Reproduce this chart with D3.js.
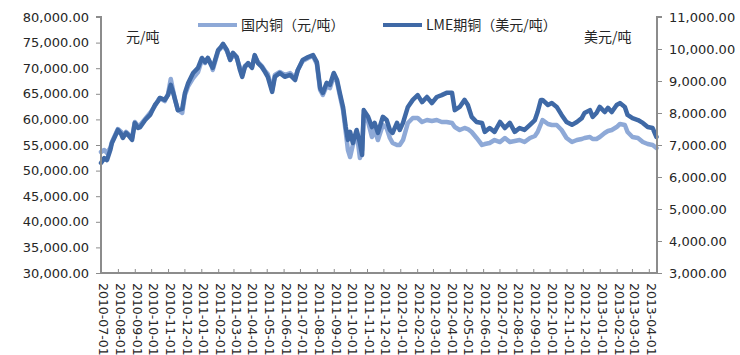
<!DOCTYPE html>
<html>
<head>
<meta charset="utf-8">
<script src="https://cdn.jsdelivr.net/npm/d3@7"></script>
<style>
  html, body { margin: 0; padding: 0; background: #fff; }
  svg { display: block; }
  text { font-family: "DejaVu Sans", Verdana, sans-serif; fill: #262626; }
  .cjk { font-family: "Noto Sans CJK SC", "DejaVu Sans", sans-serif; }
</style>
</head>
<body>
<svg id="chart" width="740" height="355"></svg>
<script>
// Trading dates (weekly-ish samples)
const dates = [
  "2010-07-01","2010-07-07","2010-07-12","2010-07-18","2010-07-21","2010-07-27","2010-08-01","2010-08-07","2010-08-10","2010-08-16",
  "2010-08-20","2010-08-27","2010-09-01","2010-09-07","2010-09-11","2010-09-20","2010-09-29","2010-10-08","2010-10-14","2010-10-17",
  "2010-10-26","2010-11-01","2010-11-06","2010-11-10","2010-11-14","2010-11-19","2010-11-27","2010-12-02","2010-12-08","2010-12-17",
  "2010-12-26","2011-01-02","2011-01-08","2011-01-13","2011-01-19","2011-01-22","2011-02-01","2011-02-06","2011-02-10","2011-02-17",
  "2011-02-23","2011-02-28","2011-03-07","2011-03-13","2011-03-17","2011-03-22","2011-03-28","2011-04-04","2011-04-09","2011-04-15",
  "2011-04-22","2011-04-28","2011-05-03","2011-05-11","2011-05-16","2011-05-25","2011-06-03","2011-06-13","2011-06-22","2011-06-27",
  "2011-07-06","2011-07-16","2011-07-25","2011-08-01","2011-08-07","2011-08-12","2011-08-19","2011-08-25","2011-09-01","2011-09-07",
  "2011-09-12","2011-09-18","2011-09-23","2011-09-27","2011-10-01","2011-10-06","2011-10-13","2011-10-19","2011-10-23","2011-10-26",
  "2011-11-03","2011-11-10","2011-11-15","2011-11-21","2011-11-30","2011-12-07","2011-12-13","2011-12-18","2011-12-26","2011-12-31",
  "2012-01-06","2012-01-15","2012-01-24","2012-02-02","2012-02-10","2012-02-19","2012-02-28","2012-03-08","2012-03-17","2012-03-26",
  "2012-04-05","2012-04-10","2012-04-19","2012-04-28","2012-05-04","2012-05-11","2012-05-20","2012-05-30","2012-06-04","2012-06-13",
  "2012-06-22","2012-07-02","2012-07-11","2012-07-20","2012-07-29","2012-08-07","2012-08-16","2012-08-26","2012-09-04","2012-09-09",
  "2012-09-15","2012-09-18","2012-09-28","2012-10-05","2012-10-14","2012-10-23","2012-11-01","2012-11-11","2012-11-20","2012-11-29",
  "2012-12-04","2012-12-14","2012-12-19","2012-12-26","2013-01-01","2013-01-10","2013-01-16","2013-01-23","2013-02-01","2013-02-07",
  "2013-02-16","2013-02-21","2013-03-02","2013-03-12","2013-03-21","2013-03-30","2013-04-08","2013-04-15"
];

// 国内铜（元/吨）
const domestic = [
  53630,54020,53440,54410,55590,56950,58120,57540,56760,57540,
  57150,56370,59490,58710,58910,60080,61250,62620,63790,64180,
  63590,64960,67890,65740,63790,61840,61250,64770,66520,68090,
  69260,71600,71020,71990,70820,69650,73360,73950,74530,73360,
  71600,72580,71990,70040,68670,70430,70820,70230,72380,71210,
  70430,69450,68870,65740,68670,69260,68670,69060,68090,69650,
  71410,71990,72380,70820,65740,64770,66520,66130,68470,67300,
  64770,61840,57540,54020,52650,55000,57540,52460,54020,60860,
  59490,56560,57930,55970,58910,58320,56370,55390,55000,55000,
  55970,59300,60270,60270,59490,59880,59690,59880,59490,59490,
  59300,58510,57930,58320,58120,57540,56370,55000,55190,55390,
  55970,55580,56370,55580,55780,55970,55580,56370,56760,57540,
  59100,59880,59100,58910,58910,57930,56370,55580,55970,56170,
  56370,56560,56170,56170,56560,57340,57730,57930,58510,59100,
  58910,57540,56560,56370,55580,55190,55000,54410
];

// LME期铜（美元/吨）
const lme = [
  6440,6590,6530,6840,7060,7280,7470,7340,7220,7380,
  7310,7160,7690,7530,7560,7780,7940,8250,8380,8470,
  8410,8560,8880,8660,8410,8090,8130,8630,8940,9250,
  9410,9720,9590,9720,9500,9410,9970,10060,10160,9970,
  9660,9880,9750,9340,9130,9440,9560,9410,9810,9560,
  9440,9280,9130,8660,9130,9250,9130,9190,9030,9340,
  9660,9750,9810,9590,8780,8630,8940,8880,9250,9030,
  8630,8190,7560,7160,7410,7060,7470,7060,6690,8090,
  7880,7560,7690,7380,7880,7780,7470,7380,7690,7470,
  7690,8190,8410,8560,8340,8500,8310,8500,8560,8630,
  8630,8090,8190,8410,8250,7880,7720,7690,7410,7530,
  7410,7720,7530,7690,7410,7530,7470,7630,7780,8030,
  8410,8410,8250,8310,8190,7940,7720,7630,7720,7840,
  8000,8090,7880,8000,8190,8030,8160,8030,8250,8310,
  8190,7940,7840,7780,7690,7560,7530,7250
];

const leftTicks = [30000,35000,40000,45000,50000,55000,60000,65000,70000,75000,80000];
const rightTicks = [3000,4000,5000,6000,7000,8000,9000,10000,11000];
const seriesNames = ["国内铜（元/吨）", "LME期铜（美元/吨）"];
const unitLeft = "元/吨";
const unitRight = "美元/吨";

const parse = d3.timeParse("%Y-%m-%d");
const fmtDate = d3.timeFormat("%Y-%m-%d");
const fmtNum = d3.format(",.2f");

const colDomestic = "#8EA9D7";
const colLme = "#3F69A6";
const axisCol = "#8C8C8C";

const svg = d3.select("#chart");
const plot = { left: 101, right: 657, top: 17, bottom: 273 };

const x = d3.scaleTime()
  .domain([parse("2010-07-01"), parse("2013-04-16")])
  .range([plot.left, plot.right]);
const yL = d3.scaleLinear().domain([30000, 80000]).range([plot.bottom, plot.top]);
const yR = d3.scaleLinear().domain([3000, 11000]).range([plot.bottom, plot.top]);

const rows = dates.map((d, i) => ({ date: parse(d), dom: domestic[i], lme: lme[i] }));

// Series lines: domestic drawn first, LME over it
const lineDom = d3.line().x(d => x(d.date)).y(d => yL(d.dom));
const lineLme = d3.line().x(d => x(d.date)).y(d => yR(d.lme));

svg.append("path").datum(rows).attr("d", lineDom)
  .attr("fill", "none").attr("stroke", colDomestic).attr("stroke-width", 4.5)
  .attr("stroke-linejoin", "round").attr("stroke-linecap", "round");
svg.append("path").datum(rows).attr("d", lineLme)
  .attr("fill", "none").attr("stroke", colLme).attr("stroke-width", 4.5)
  .attr("stroke-linejoin", "round").attr("stroke-linecap", "round");

// Left axis
const gL = svg.append("g").attr("transform", `translate(${plot.left},0)`)
  .call(d3.axisLeft(yL).tickValues(leftTicks).tickFormat(fmtNum).tickSize(5).tickPadding(7));
// Right axis
const gR = svg.append("g").attr("transform", `translate(${plot.right},0)`)
  .call(d3.axisRight(yR).tickValues(rightTicks).tickFormat(fmtNum).tickSize(5).tickPadding(7));
// Bottom axis with monthly ticks pointing inward
const monthTicks = d3.timeMonth.range(parse("2010-07-01"), parse("2013-04-02"));
const gB = svg.append("g").attr("transform", `translate(0,${plot.bottom})`)
  .call(d3.axisBottom(x).tickValues(monthTicks).tickFormat(fmtDate).tickSize(-4).tickPadding(0));

[gL, gR, gB].forEach(g => {
  g.select(".domain").attr("stroke", axisCol).attr("stroke-width", 2);
  g.selectAll(".tick line").attr("stroke", axisCol).attr("stroke-width", 1);
  g.selectAll(".tick text").attr("font-size", 13).attr("fill", "#262626")
    .attr("font-family", "'DejaVu Sans', Verdana, sans-serif");
});
gB.select(".domain").attr("d", `M${plot.left},0H${plot.right}`);
gL.select(".domain").attr("d", `M-5,${plot.top}H0V${plot.bottom}`);
gR.select(".domain").attr("d", `M5,${plot.top}H0V${plot.bottom}`);

gB.selectAll(".tick text")
  .attr("font-size", 12.5)
  .attr("text-anchor", "start")
  .attr("transform", "translate(2,10) rotate(90)")
  .attr("x", 0).attr("y", 0).attr("dy", "0.35em");

// Unit labels
svg.append("text").attr("class", "cjk").attr("x", 126).attr("y", 42)
  .attr("font-size", 14).attr("fill", "#404040").text(unitLeft);
svg.append("text").attr("class", "cjk").attr("x", 584).attr("y", 42)
  .attr("font-size", 14).attr("fill", "#404040").text(unitRight);

// Legend
const legend = [
  { name: seriesNames[0], color: colDomestic, x0: 198 },
  { name: seriesNames[1], color: colLme, x0: 383 }
];
const lg = svg.append("g");
legend.forEach(l => {
  lg.append("line").attr("x1", l.x0).attr("x2", l.x0 + 39).attr("y1", 25).attr("y2", 25)
    .attr("stroke", l.color).attr("stroke-width", 4);
  lg.append("text").attr("class", "cjk").attr("x", l.x0 + 43).attr("y", 25).attr("dy", "0.35em")
    .attr("font-size", 14).attr("fill", "#404040").text(l.name);
});
</script>
</body>
</html>
